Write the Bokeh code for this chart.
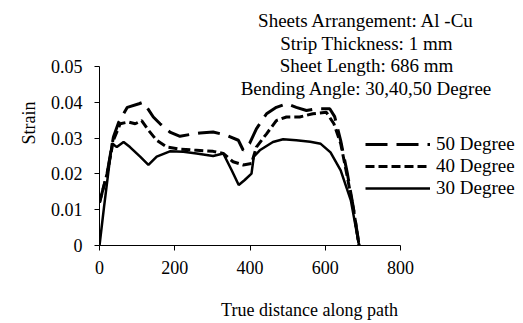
from bokeh.plotting import figure
from bokeh.models import Range1d, FixedTicker, NumeralTickFormatter, Legend, LegendItem, Label
from bokeh.embed import file_html
from bokeh.resources import INLINE

FONT = "Liberation Serif"

x_ticks = [0, 200, 400, 600, 800]
y_ticks = [0, 0.01, 0.02, 0.03, 0.04, 0.05]
x_axis_span = (0, 800)
y_axis_span = (0, 0.05)

series_names = ["50 Degree", "40 Degree", "30 Degree"]

x50 = [0, 20, 37, 51, 74, 105, 115, 126, 143, 161, 187, 214, 240, 267, 302, 338, 369, 382, 399, 417, 444, 470, 497, 523, 550, 576, 612, 625, 641, 659, 676, 690]
y50 = [0.012, 0.020, 0.0303, 0.0344, 0.0386, 0.0396, 0.0400, 0.0386, 0.0359, 0.0340, 0.0317, 0.0305, 0.0310, 0.0314, 0.0317, 0.0308, 0.0294, 0.0266, 0.0285, 0.0326, 0.0368, 0.0386, 0.0396, 0.0386, 0.0377, 0.0382, 0.0382, 0.0360, 0.0293, 0.0200, 0.0098, 0]

x40 = [0, 20, 37, 55, 77, 95, 112, 130, 152, 179, 214, 258, 302, 329, 355, 382, 404, 417, 444, 470, 497, 532, 567, 603, 623, 641, 659, 676, 690]
y40 = [0.012, 0.020, 0.0294, 0.0340, 0.0345, 0.0340, 0.0349, 0.0322, 0.0294, 0.0275, 0.0269, 0.0266, 0.0263, 0.0257, 0.0234, 0.0225, 0.0229, 0.0275, 0.0312, 0.0349, 0.0359, 0.0359, 0.0368, 0.0372, 0.0340, 0.0285, 0.0190, 0.0095, 0]

x30 = [0, 12, 33, 46, 64, 81, 108, 130, 152, 187, 223, 258, 302, 329, 351, 370, 386, 404, 410, 426, 461, 488, 523, 560, 588, 614, 641, 668, 690]
y30 = [0, 0.0107, 0.0285, 0.0275, 0.0289, 0.0275, 0.0248, 0.0225, 0.0248, 0.0263, 0.0262, 0.0257, 0.0250, 0.0257, 0.0211, 0.0169, 0.0183, 0.0201, 0.0248, 0.0266, 0.0289, 0.0297, 0.0294, 0.0290, 0.0284, 0.0260, 0.0210, 0.0126, 0]

info_lines = ["Sheets Arrangement: Al -Cu", "Strip Thickness: 1 mm",
              "Sheet Length: 686 mm", "Bending Angle: 30,40,50 Degree"]

# layout: the axes occupy 301 x 179 px of a larger frame, so that the
# annotation text and the legend (drawn inside the frame) are not clipped
W, H = 523, 323
LEFT, RIGHT, TOP, BOTTOM = 99, 4, 0, 78
AX_W, AX_H = 301, 179
frame_w = W - LEFT - RIGHT
frame_h = H - TOP - BOTTOM
x_end = x_axis_span[1] * frame_w / AX_W
y_end = y_axis_span[1] * frame_h / AX_H

p = figure(width=W, height=H, output_backend="svg", toolbar_location=None,
           x_range=Range1d(0, x_end), y_range=Range1d(0, y_end),
           min_border_left=LEFT, min_border_right=RIGHT, min_border_top=TOP, min_border_bottom=BOTTOM)
p.outline_line_color = None
p.xgrid.visible = False
p.ygrid.visible = False
p.background_fill_color = "white"
p.border_fill_color = "white"

for ax in (p.xaxis[0], p.yaxis[0]):
    ax.axis_line_color = "black"
    ax.major_tick_line_color = "black"
    ax.minor_tick_line_color = None
    ax.major_tick_in = 0
    ax.major_tick_out = 5
    ax.major_label_text_font = FONT
    ax.major_label_text_font_size = "18px"
    ax.major_label_text_color = "black"
    ax.axis_label_text_font = FONT
    ax.axis_label_text_font_size = "18px"
    ax.axis_label_text_font_style = "normal"
    ax.axis_label_text_color = "black"

p.xaxis.bounds = x_axis_span
p.yaxis.bounds = y_axis_span
p.xaxis.ticker = FixedTicker(ticks=x_ticks)
p.yaxis.ticker = FixedTicker(ticks=y_ticks)
p.yaxis.formatter = NumeralTickFormatter(format="0.[00]")
p.xaxis.axis_label = "True distance along path"
p.yaxis.axis_label = "Strain"
p.xaxis.major_label_standoff = 10
p.xaxis.axis_label_standoff = 23
p.yaxis.major_label_standoff = 12
p.yaxis.axis_label_standoff = 9

r50 = p.line(x50, y50, line_color="black", line_width=3, line_dash="22 9")
r40 = p.line(x40, y40, line_color="black", line_width=3, line_dash="9 4")
r30 = p.line(x30, y30, line_color="black", line_width=2.5)

legend = Legend(items=[LegendItem(label=series_names[0], renderers=[r50]),
                       LegendItem(label=series_names[1], renderers=[r40]),
                       LegendItem(label=series_names[2], renderers=[r30])],
                location=(266, 46), orientation="vertical")
legend.glyph_width = 65
legend.glyph_height = 20
legend.label_height = 20
legend.spacing = 0
legend.padding = 0
legend.margin = 0
legend.label_standoff = 6
legend.border_line_color = None
legend.background_fill_alpha = 0
legend.label_text_font = FONT
legend.label_text_font_size = "19px"
legend.label_text_color = "black"
p.add_layout(legend, "center")

for i, t in enumerate(info_lines):
    p.add_layout(Label(x=267, y=225 - 22.7 * i, x_units="screen", y_units="screen",
                       text=t, text_align="center", text_baseline="middle",
                       text_font=FONT, text_font_size="19px", text_color="black"))

open("out.html", "w").write(file_html(p, INLINE))
